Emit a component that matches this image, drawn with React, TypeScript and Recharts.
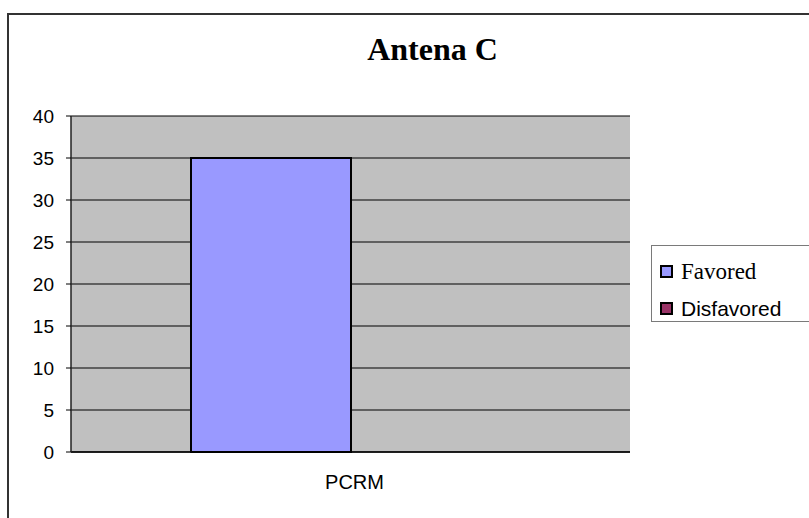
import React from 'react';
import { BarChart, Bar, XAxis, YAxis, CartesianGrid, Legend } from 'recharts';

const categories = ['PCRM'];
const favored = [35];
const disfavored = [0];
const yTicks = [0, 5, 10, 15, 20, 25, 30, 35, 40];

const SERIES = [
  { key: 'favored', name: 'Favored', color: '#9999FF', font: '"Liberation Serif", "Times New Roman", serif', size: 23 },
  { key: 'disfavored', name: 'Disfavored', color: '#993366', font: '"Liberation Sans", Arial, sans-serif', size: 21 },
];

const data = categories.map((c, i) => ({ name: c, favored: favored[i], disfavored: disfavored[i] }));

const SANS = '"Liberation Sans", Arial, sans-serif';

const LegendBox = () => (
  <div
    style={{
      border: '1px solid #7a7a7a',
      background: '#fff',
      padding: '9px 0 6px 8px',
      boxSizing: 'border-box',
      height: 77,
    }}
  >
    {SERIES.map((s, i) => (
      <div key={s.key} style={{ display: 'flex', alignItems: 'center', height: 32, marginTop: i === 0 ? 0 : 5 }}>
        <span
          style={{
            display: 'inline-block',
            width: 9,
            height: 9,
            background: s.color,
            border: '2px solid #000',
            marginRight: 8,
          }}
        />
        <span style={{ fontFamily: s.font, fontSize: s.size, color: '#000', lineHeight: 1 }}>{s.name}</span>
      </div>
    ))}
  </div>
);

export default function App() {
  return (
    <div style={{ position: 'absolute', left: 0, top: 0, width: 809, height: 518, overflow: 'hidden', background: '#fff' }}>
      <div
        style={{
          position: 'absolute',
          left: 7,
          top: 13,
          width: 900,
          height: 600,
          border: '2px solid #333',
          boxSizing: 'border-box',
        }}
      />
      <div
        style={{
          position: 'absolute',
          left: 0,
          top: 31,
          width: 809,
          textAlign: 'center',
          paddingLeft: 56,
          boxSizing: 'border-box',
          fontFamily: '"Liberation Serif", "Times New Roman", serif',
          fontWeight: 'bold',
          fontSize: 32,
          color: '#000',
        }}
      >
        Antena C
      </div>
      <div style={{ position: 'absolute', left: 0, top: 0 }}>
        <BarChart
          width={809}
          height={518}
          data={data}
          margin={{ top: 116, right: 179, bottom: 36, left: 0 }}
          barCategoryGap={120}
          barGap={0}
        >
          <CartesianGrid vertical={false} stroke="#000" fill="#C0C0C0" fillOpacity={1} />
          <XAxis
            dataKey="name"
            height={30}
            axisLine={{ stroke: '#000', strokeWidth: 1.5 }}
            tickLine={false}
            tickSize={0}
            tickMargin={23}
            tick={{ fill: '#000', fontSize: 20, fontFamily: SANS, dx: 4 }}
          />
          <XAxis xAxisId="top" orientation="top" dataKey="name" height={0} tick={false} tickLine={false} axisLine={{ stroke: '#808080', strokeWidth: 2 }} />
          <YAxis
            width={71}
            domain={[0, 40]}
            ticks={yTicks}
            interval={0}
            axisLine={{ stroke: '#222', strokeWidth: 1.5 }}
            tickLine={{ stroke: '#000' }}
            tickSize={5}
            tickMargin={12}
            tick={{ fill: '#000', fontSize: 19, fontFamily: SANS }}
          />
          <YAxis yAxisId="right" orientation="right" width={0} tick={false} tickLine={false} axisLine={{ stroke: '#808080', strokeWidth: 3 }} />
          <Legend
            layout="horizontal"
            align="center"
            verticalAlign="middle"
            content={() => <LegendBox />}
            wrapperStyle={{ left: 651, top: 245, width: 170 }}
          />
          {SERIES.map((s) => (
            <Bar key={s.key} dataKey={s.key} name={s.name} fill={s.color} stroke="#000" strokeWidth={2} isAnimationActive={false} />
          ))}
        </BarChart>
      </div>
    </div>
  );
}
